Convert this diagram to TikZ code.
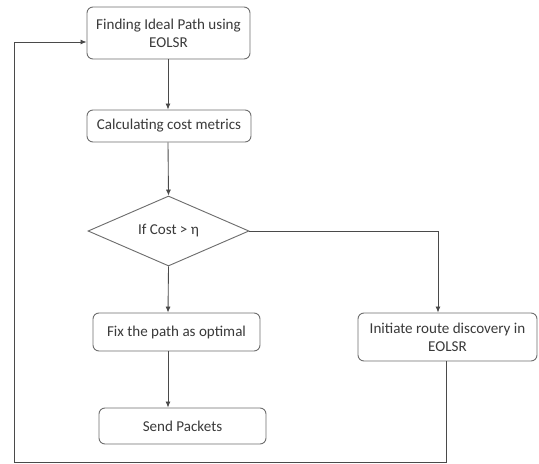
\documentclass[tikz,border=0pt]{standalone}
\usepackage{fontspec}
\setmainfont{Carlito}
\usetikzlibrary{shapes.geometric,arrows.meta}
\definecolor{boxline}{HTML}{6E6E6E}
\definecolor{conline}{HTML}{4A4A4A}
\definecolor{txt}{HTML}{3A3A3A}
\tikzset{
  procbox/.style={draw=boxline, line width=0.7pt, rounded corners=4.5pt, fill=white,
    align=center, text=txt, font=\fontsize{11.3}{13.5}\selectfont, inner sep=0pt},
  decbox/.style={draw=boxline, line width=0.7pt, diamond, aspect=2.3, inner sep=0pt,
    text=txt, font=\fontsize{11.3}{13.5}\selectfont},
  conn/.style={draw=conline, line width=0.65pt},
  arr/.style={conn, -{Latex[length=4.5pt,width=3.8pt]}}
}
\begin{document}
\begin{tikzpicture}[x=0.75pt,y=-0.75pt]
\useasboundingbox (0,0) rectangle (539,464);
\node[procbox, minimum width=122.25pt, minimum height=39pt] (b1) at (168.5,33) {Finding Ideal Path using\\EOLSR};
\node[procbox, minimum width=123pt, minimum height=24pt] (b2) at (169,126) {Calculating cost metrics};
\node[decbox, minimum width=120.75pt, minimum height=52.5pt] (dia) at (168.5,231) {If Cost > η};
\node[procbox, minimum width=125.25pt, minimum height=28.5pt] (fix) at (176.5,332) {Fix the path as optimal};
\node[procbox, minimum width=125.25pt, minimum height=27pt] (send) at (182.5,426) {Send Packets};
\node[procbox, minimum width=134.25pt, minimum height=36pt] (ini) at (447.5,337) {Initiate route discovery in\\EOLSR};
\coordinate (k1) at (438,231);
\coordinate (c1) at (446,462);
\coordinate (c2) at (14.5,462);
\coordinate (c3) at (14.5,42);
\coordinate (ax) at (168,0);
\draw[arr] (ax |- b1.south) -- (ax |- b2.north);
\draw[arr] (ax |- b2.south) -- (dia.north);
\draw[arr] (dia.south) -- (ax |- fix.north);
\draw[arr] (ax |- fix.south) -- (ax |- send.north);
\draw[arr] (dia.east) -- (k1) -- (k1 |- ini.north);
\draw[arr] (c1 |- ini.south) -- (c1) -- (c2) -- (c3) -- (c3 -| b1.west);
\end{tikzpicture}
\end{document}
